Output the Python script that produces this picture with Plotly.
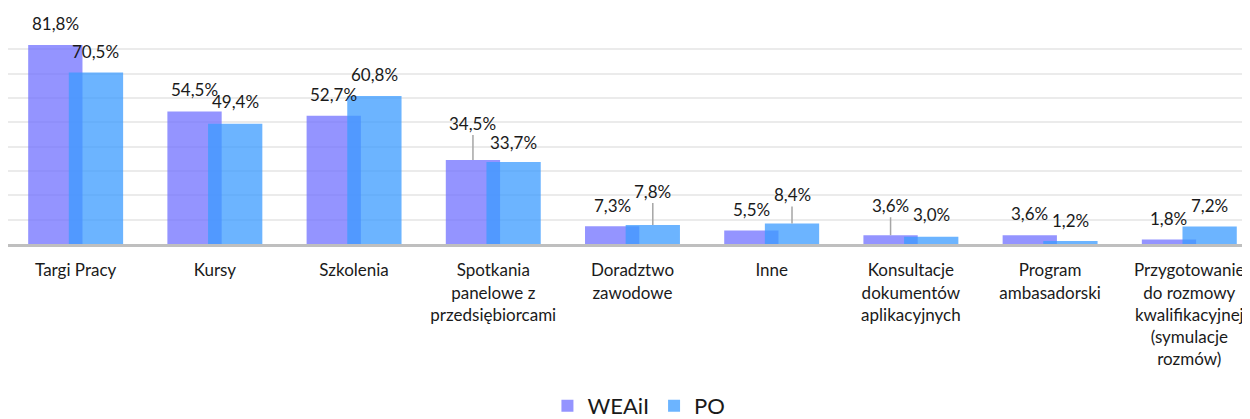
import plotly.graph_objects as go

categories = [
    "Targi Pracy",
    "Kursy",
    "Szkolenia",
    "Spotkania<br>panelowe z<br>przedsiębiorcami",
    "Doradztwo<br>zawodowe",
    "Inne",
    "Konsultacje<br>dokumentów<br>aplikacyjnych",
    "Program<br>ambasadorski",
    "Przygotowanie<br>do rozmowy<br>kwalifikacyjnej<br>(symulacje<br>rozmów)",
]
weaii = [81.8, 54.5, 52.7, 34.5, 7.3, 5.5, 3.6, 3.6, 1.8]
po = [70.5, 49.4, 60.8, 33.7, 7.8, 8.4, 3.0, 1.2, 7.2]

# label lift in px above bar top (leader lines where lifted further)
weaii_lift = [21, 22, 21, 37, 21, 21, 30, 22, 21]
po_lift = [21, 22, 22, 20, 34, 29, 22, 21, 21]

FONT = "Lato"
C_W = "rgba(112,112,255,0.75)"
C_P = "rgba(59,155,255,0.75)"

BW = 0.39
OFF = 0.146

def fmt(v):
    return f"{v:.1f}".replace(".", ",") + "%"

fig = go.Figure()
fig.add_trace(go.Bar(name="WEAiI", x=categories, y=weaii, width=BW,
                     offset=-OFF - BW / 2, marker=dict(color=C_W, line=dict(width=0))))
fig.add_trace(go.Bar(name="PO", x=categories, y=po, width=BW,
                     offset=OFF - BW / 2, marker=dict(color=C_P, line=dict(width=0))))

annotations = []
for series, lifts, sign in ((weaii, weaii_lift, -1), (po, po_lift, 1)):
    for i, (v, lift) in enumerate(zip(series, lifts)):
        if lift > 25:
            annotations.append(dict(x=i + sign * OFF, y=v, xref="x", yref="y",
                                    text=fmt(v), showarrow=True, ax=0, ay=-lift,
                                    arrowhead=0, arrowwidth=1.5, arrowcolor="#A6A6A6",
                                    standoff=0, startstandoff=0,
                                    font=dict(family=FONT, size=17, color="#1a1a1a")))
        else:
            annotations.append(dict(x=i + sign * OFF, y=v, xref="x", yref="y",
                                    text=fmt(v), showarrow=False, yshift=lift,
                                    font=dict(family=FONT, size=17, color="#1a1a1a")))

fig.update_layout(
    template="none",
    width=1242, height=411,
    margin=dict(l=0, r=0, t=17, b=175, autoexpand=False),
    paper_bgcolor="white", plot_bgcolor="white",
    barmode="overlay",
    font=dict(family=FONT, size=17, color="#1a1a1a"),
    showlegend=True,
    legend=dict(orientation="h", x=0.508, xanchor="center", yref="container",
                y=0.032, yanchor="middle",
                font=dict(family=FONT, size=22, color="#1a1a1a"), itemwidth=30,
                traceorder="normal", bgcolor="rgba(0,0,0,0)"),
    annotations=annotations,
    xaxis=dict(range=[-0.486, 8.436], showgrid=False, showline=True, linecolor="#BFBFBF",
               linewidth=3, ticks="", tickfont=dict(family=FONT, size=17, color="#1a1a1a"),
               tickangle=0, ticklabelstandoff=9, automargin=False, fixedrange=True),
    yaxis=dict(range=[0, 90], dtick=10, showgrid=True, gridcolor="#EBEBEB", gridwidth=1.5,
               showticklabels=False, zeroline=False, showline=False, ticks="",
               automargin=False, fixedrange=True),
)

fig.write_html("out.html")
